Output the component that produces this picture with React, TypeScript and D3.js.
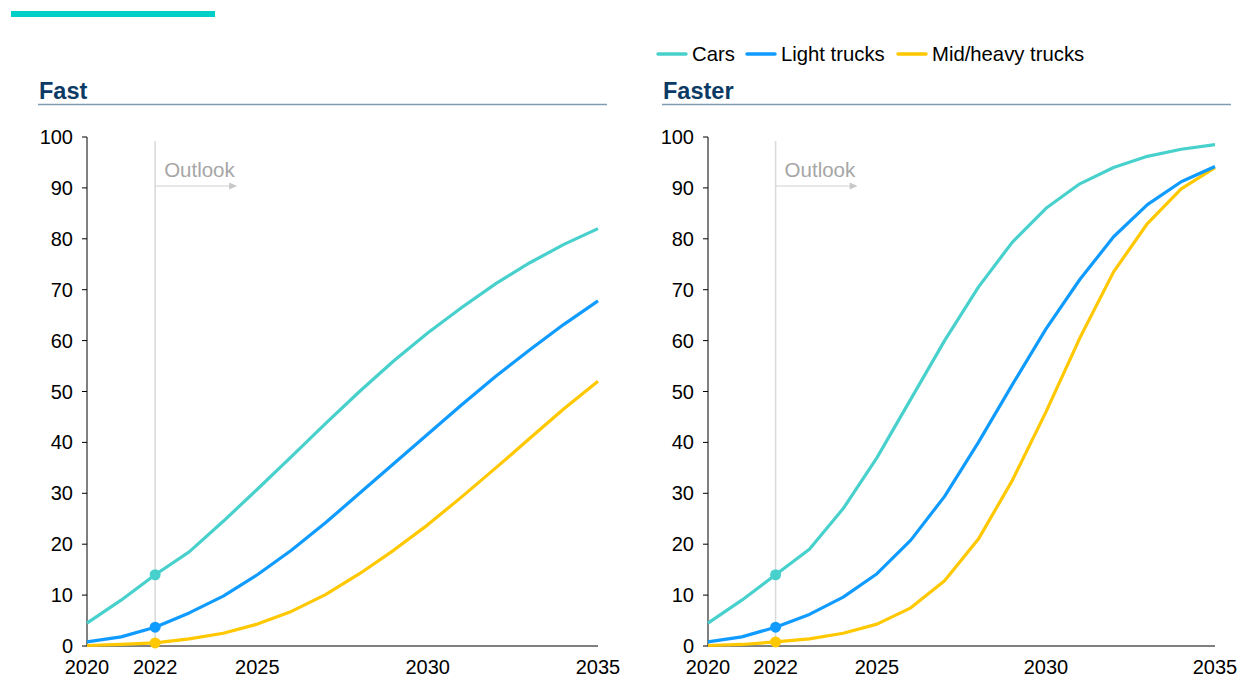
import React, { useEffect, useRef } from "react";
import * as d3 from "d3";

const years = [2020, 2021, 2022, 2023, 2024, 2025, 2026, 2027, 2028, 2029, 2030, 2031, 2032, 2033, 2034, 2035];
const xTickYears = [2020, 2022, 2025, 2030, 2035];
const yTicks = [0, 10, 20, 30, 40, 50, 60, 70, 80, 90, 100];
const seriesNames = ["Cars", "Light trucks", "Mid/heavy trucks"];
const seriesColors = ["#48D1CC", "#0F9BFF", "#FFC800"];

// Fast scenario
const fastCars = [4.5, 9, 14, 18.5, 24.5, 30.8, 37.2, 43.7, 50, 56, 61.5, 66.5, 71.2, 75.3, 78.9, 82];
const fastLight = [0.8, 1.8, 3.7, 6.5, 9.8, 14, 18.8, 24.2, 30, 35.8, 41.6, 47.4, 53, 58.2, 63.2, 67.8];
const fastHeavy = [0.1, 0.3, 0.6, 1.4, 2.5, 4.3, 6.8, 10.1, 14.2, 18.8, 23.8, 29.3, 35, 40.8, 46.6, 52];

// Faster scenario
const fasterCars = [4.5, 9, 14, 19, 27, 37, 48.5, 60, 70.5, 79.3, 86, 90.8, 94, 96.2, 97.6, 98.5];
const fasterLight = [0.8, 1.8, 3.7, 6.2, 9.6, 14.2, 20.8, 29.4, 40, 51.3, 62.3, 72, 80.4, 86.7, 91.2, 94.2];
const fasterHeavy = [0.1, 0.3, 0.8, 1.4, 2.5, 4.3, 7.5, 12.8, 21, 32.5, 46, 60.5, 73.5, 83, 89.8, 94];

const outlookYear = 2022;

const FONT = "'Liberation Sans', Arial, sans-serif";

interface PanelProps {
  title: string;
  series: number[][];
  titleX: number;
  titleRight: number;
  axisX: number;
  axisRight: number;
}

const Panel: React.FC<PanelProps> = ({ title, series, titleX, titleRight, axisX, axisRight }) => {
  const ref = useRef<SVGGElement | null>(null);

  useEffect(() => {
    const g = d3.select(ref.current);
    g.selectAll("*").remove();

    const top = 137;
    const bottom = 646;

    const x = d3.scaleLinear().domain([2020, 2035]).range([axisX, axisRight]);
    const y = d3.scaleLinear().domain([0, 100]).range([bottom, top]);

    // Title + underline
    g.append("text")
      .attr("x", titleX + 1)
      .attr("y", 99)
      .attr("font-family", FONT)
      .attr("font-size", 23.5)
      .attr("font-weight", "bold")
      .attr("fill", "#0B3A64")
      .text(title);
    g.append("line")
      .attr("x1", titleX)
      .attr("x2", titleRight)
      .attr("y1", 104.5)
      .attr("y2", 104.5)
      .attr("stroke", "#7F9BB2")
      .attr("stroke-width", 1.5);

    // Outlook marker
    const ox = x(outlookYear);
    g.append("line")
      .attr("x1", ox)
      .attr("x2", ox)
      .attr("y1", 141)
      .attr("y2", bottom)
      .attr("stroke", "#D9D9D9")
      .attr("stroke-width", 1.5);
    g.append("line")
      .attr("x1", ox)
      .attr("x2", ox + 74)
      .attr("y1", 186)
      .attr("y2", 186)
      .attr("stroke", "#D0D0D0")
      .attr("stroke-width", 1);
    g.append("path")
      .attr("d", `M${ox + 82},186 L${ox + 74},182.5 L${ox + 74},189.5 Z`)
      .attr("fill", "#C8C8C8");
    g.append("text")
      .attr("x", ox + 9)
      .attr("y", 177)
      .attr("font-family", FONT)
      .attr("font-size", 20.5)
      .attr("fill", "#A6A6A6")
      .text("Outlook");

    // Y axis
    g.append("line")
      .attr("x1", axisX)
      .attr("x2", axisX)
      .attr("y1", top)
      .attr("y2", bottom)
      .attr("stroke", "#000")
      .attr("stroke-width", 1);
    yTicks.forEach((t) => {
      g.append("line")
        .attr("x1", axisX - 5)
        .attr("x2", axisX)
        .attr("y1", y(t))
        .attr("y2", y(t))
        .attr("stroke", "#000");
      g.append("text")
        .attr("x", axisX - 14)
        .attr("y", y(t))
        .attr("dy", "0.35em")
        .attr("text-anchor", "end")
        .attr("font-family", FONT)
        .attr("font-size", 20)
        .attr("fill", "#000")
        .text(t);
    });

    // X axis
    g.append("line")
      .attr("x1", axisX)
      .attr("x2", axisRight)
      .attr("y1", bottom)
      .attr("y2", bottom)
      .attr("stroke", "#000")
      .attr("stroke-width", 1);
    xTickYears.forEach((t) => {
      g.append("text")
        .attr("x", x(t))
        .attr("y", 674)
        .attr("text-anchor", "middle")
        .attr("font-family", FONT)
        .attr("font-size", 20)
        .attr("fill", "#000")
        .text(t);
    });

    const line = d3
      .line<number>()
      .x((_, i) => x(years[i]))
      .y((d) => y(d));

    // draw back-to-front: heavy, light, cars
    [2, 1, 0].forEach((si) => {
      g.append("path")
        .datum(series[si])
        .attr("d", line)
        .attr("fill", "none")
        .attr("stroke", seriesColors[si])
        .attr("stroke-width", 3.2)
        .attr("stroke-linejoin", "round");
      const idx = years.indexOf(outlookYear);
      g.append("circle")
        .attr("cx", x(outlookYear))
        .attr("cy", y(series[si][idx]))
        .attr("r", 5.5)
        .attr("fill", seriesColors[si]);
    });
  }, [title, series, titleX, titleRight, axisX, axisRight]);

  return <g ref={ref} />;
};

export default function App() {
  const legendX = [658, 747, 898];
  return (
    <div style={{ position: "fixed", left: 0, top: 0 }}>
      <svg width={1238} height={677} style={{ display: "block", background: "#fff" }}>
        <rect x={11} y={11} width={204} height={6} fill="#00CFC8" />
        {seriesNames.map((name, i) => (
          <g key={name}>
            <line
              x1={legendX[i]}
              x2={legendX[i] + 28}
              y1={54}
              y2={54}
              stroke={seriesColors[i]}
              strokeWidth={3.5}
              strokeLinecap="round"
            />
            <text x={legendX[i] + 34} y={61} fontFamily={FONT} fontSize={20.3} fill="#000">
              {name}
            </text>
          </g>
        ))}
        <Panel
          title="Fast"
          series={[fastCars, fastLight, fastHeavy]}
          titleX={38}
          titleRight={607}
          axisX={87}
          axisRight={598}
        />
        <Panel
          title="Faster"
          series={[fasterCars, fasterLight, fasterHeavy]}
          titleX={662}
          titleRight={1231}
          axisX={708}
          axisRight={1215}
        />
      </svg>
    </div>
  );
}
